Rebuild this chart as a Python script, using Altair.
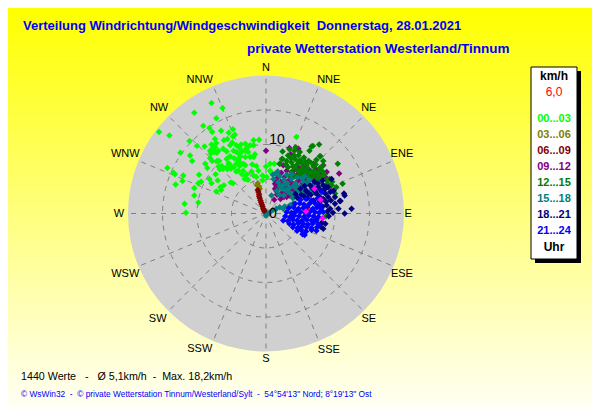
import math
import altair as alt
import pandas as pd

NB = "\u00a0"
TITLE_1 = f"Verteilung Windrichtung/Windgeschwindigkeit{NB}{NB}Donnerstag, 28.01.2021"
TITLE_2 = "private Wetterstation Westerland/Tinnum"
STATS = f"1440 Werte{NB}{NB}{NB}-{NB}{NB}{NB}Ø 5,1km/h{NB}{NB}-{NB}{NB}Max. 18,2km/h"
FOOTER = f"© WsWin32{NB}{NB}-{NB}{NB}© private Wetterstation Tinnum/Westerland/Sylt{NB}{NB}-{NB}{NB}54°54'13\" Nord; 8°19'13\" Ost"
DIRECTIONS = ["N", "NNE", "NE", "ENE", "E", "ESE", "SE", "SSE", "S", "SSW", "SW", "WSW", "W", "WNW", "NW", "NNW"]
DIR_LABEL_E = [0, 9.1, 14.9, 19.7, 20.6, 19.7, 14.9, 9.1, 0, -9.6, -15.7, -20.4, -21.3, -20.4, -15.5, -9.6]
DIR_LABEL_N = [21.1, 19.3, 15.3, 8.6, -0.1, -8.8, -15.3, -19.8, -21.1, -19.6, -15.3, -8.8, -0.1, 8.6, 15.3, 19.3]
RINGS = [5, 10, 15]
LEGEND = ["00...03", "03...06", "06...09", "09...12", "12...15", "15...18", "18...21", "21...24"]
COLORS = ["#00ff00", "#808000", "#800000", "#800080", "#008000", "#008080", "#000080", "#0000ff"]

# (east, north) wind components in km/h
H00 = [(-7.9,16.0),(-6.3,15.3),(-10.4,14.6),(-7.2,13.8),(-15.5,11.8),(-14.0,11.3),(-9.1,12.7),(-8.2,12.4),(-7.8,11.8),(-6.5,12.0),
(-4.8,12.2),(-5.4,11.7),(-4.5,11.4),(-4.8,11.2),(-11.1,10.5),(-10.0,9.8),(-8.9,9.7),(-7.4,10.8),(-7.9,10.0),(-7.2,10.2),
(-5.6,10.8),(-6.1,10.6),(-1.8,10.6),(-1.0,10.7),(-1.8,9.9),(-12.4,8.8),(-11.0,8.4),(-10.7,7.6),(-7.7,9.5),(-7.5,8.9),
(-7.1,8.8),(-8.0,8.7),(-6.2,9.4),(-5.7,9.0),(-4.9,10.3),(-5.2,9.9),(-4.3,9.9),(-3.6,10.0),(-3.0,10.1),(-2.8,9.5),
(-3.9,9.6),(-4.7,9.1),(-3.0,9.1),(-1.6,8.6),(-1.8,8.2),(-2.3,8.2),(-3.8,8.2),(-4.6,8.0),(-5.2,8.3),(-8.1,8.0),
(-7.8,7.6),(-7.1,7.6),(-6.8,7.6),(-8.8,7.2),(-8.5,6.6),(-6.9,6.8),(-5.4,7.3),(-5.2,7.0),(-5.7,6.7),(-6.2,6.5),
(-6.7,6.4),(-5.1,6.5),(-3.8,7.4),(-3.3,7.2),(-3.0,7.0),(-3.8,6.9),(-2.0,7.1),(-1.4,6.9),(-1.1,6.2),(-4.3,6.1),
(-3.5,5.7),(-3.0,5.5),(-3.1,5.0),(-2.6,4.9),(-2.8,5.7),(-2.1,6.1),(-1.4,5.3),(-0.5,5.5),(-0.5,4.8),(-14.3,6.6),
(-13.4,5.9),(-13.2,5.7),(-12.0,5.5),(-12.1,4.7),(-13.1,4.2),(-9.7,5.6),(-9.4,4.6),(-9.8,4.4),(-10.4,3.7),(-8.2,5.0),
(-7.3,5.7),(-7.0,4.8),(-7.9,4.4),(-6.1,4.1),(-6.6,3.8),(-6.5,3.4),(-7.2,3.2),(-5.1,4.5),(-4.8,4.4),(-10.4,2.6),
(-9.8,1.6),(-11.8,1.4),(-11.6,0.1),(0.6,7.2),(0.0,6.8),(0.6,6.2),(1.2,7.2),(4.4,11.1),(0.1,5.3),(0.8,5.9),
(-5.7,7.9),(-4.3,7.2),(-6.4,6.9),(-4.7,6.7),(-5.6,6.4),(-4.0,6.2),(-3.3,6.2),(-2.8,5.0),(-1.8,5.5),(-3.5,9.1),
(-4.3,8.9),(-3.8,8.6),(-2.6,8.9),(-2.3,9.9),(-3.0,8.2),(-4.0,7.7),(-8.1,9.1),(-7.4,9.6),(-6.9,9.1)]
H03 = [(-1.2,4.4),(-1.0,3.9),(-0.9,3.6),(-1.3,4.1)]
H06 = [(-1.2,3.4),(-1.1,3.1),(-1.0,2.8),(-1.0,2.5),(-0.9,2.2),(-0.8,1.9),(-0.7,1.6),(-0.6,1.3),(-0.5,1.0),(-0.4,0.7),(-0.3,0.5),(-0.2,0.3)]
H09 = [(0.0,9.1),(3.4,9.5),(4.7,9.4),(3.6,8.6),(2.5,7.0),(10.6,5.8),(6.9,7.2),(8.8,6.0),(2.0,7.2),(1.3,4.8),
(3.0,6.2),(4.7,6.7),(5.7,5.7),(1.8,3.8),(1.3,3.6),(1.2,2.0),(1.3,4.3),(1.5,3.3),(3.0,2.4),(3.5,3.3),
(4.4,4.5),(8.3,7.0),(8.4,5.8),(9.5,3.3),(6.8,5.8),(5.4,6.7),(2.1,4.6),(2.7,5.3),(3.3,4.8),(2.3,3.0),
(2.9,3.8),(3.7,4.1),(4.1,5.4),(4.8,4.9),(5.2,3.9),(6.0,4.7),(6.4,5.3),(7.1,4.4),(7.6,5.2),(2.2,5.9),
(1.7,5.2),(3.9,6.1),(5.0,6.0),(6.2,6.4),(7.3,6.3),(8.0,4.7),(5.6,3.0),(4.3,3.0),(2.6,2.4),(6.7,3.4),
(1.6,2.7),(2.1,2.1),(2.9,3.0),(3.4,2.6),(4.0,3.5),(4.6,3.8),(5.3,4.4),(1.5,4.0),(1.9,4.4),(2.5,4.1),
(3.0,4.3),(3.6,4.6),(4.5,5.6),(5.6,5.1),(6.5,5.9),(7.2,5.6),(7.9,5.9),(8.6,5.3),(6.9,4.9),(8.9,4.2)]
H12 = [(7.7,10.0),(6.6,9.7),(6.3,9.1),(2.4,9.0),(4.7,8.4),(4.1,9.1),(3.2,8.4),(2.3,7.9),(2.0,7.2),(7.9,8.3),
(8.3,7.6),(10.4,7.2),(7.3,7.8),(5.2,7.2),(4.2,7.9),(3.7,7.4),(5.9,7.0),(6.6,6.0),(7.6,5.5),(11.1,4.3),
(10.2,3.8),(9.5,4.1),(8.8,4.8),(4.9,6.0),(3.2,6.7),(5.7,6.2),(4.4,7.0),(3.7,6.0),(8.1,6.2),(6.8,9.8),
(4.3,9.6),(2.4,7.9),(7.8,8.3),(4.9,8.9),(5.5,8.1),(6.2,7.6),(3.4,9.3),(4.1,8.4),(6.9,6.8),(7.8,6.6),
(8.7,-0.4),(10.0,2.9),(8.5,5.7),(9.2,5.0),(6.1,5.3),(5.2,5.4),(4.4,6.4),(3.0,7.6),
(5.0,7.7),(5.7,7.5),(6.6,7.3),(7.2,7.1),(3.6,8.0),(2.9,7.1),(3.9,6.8),(4.7,7.5),(5.3,6.6),(6.0,6.5),
(7.0,6.2),(7.5,5.9),(8.3,5.5),(8.0,5.0),(7.4,4.9),(6.5,5.0),(6.9,5.5),(6.2,5.8),(5.5,5.8),(4.8,5.6),
(9.6,4.6),(8.9,4.3),(8.2,6.9),(4.2,5.4),(3.5,5.4)]
H15 = [(0.0,-0.3),(0.5,0.1),(1.0,0.5),(1.5,0.7),(2.0,0.9),(2.7,1.0),(3.5,1.2),(3.9,1.4),(0.8,2.6),(2.3,3.6),
(4.2,3.8),(3.2,3.1),(1.4,5.8),(1.1,5.0),(2.0,5.4),(2.6,4.9),(3.1,4.4),(3.7,5.0),(4.3,4.4),(4.9,3.9),
(5.4,4.6),(1.8,4.5),(2.3,4.0),(2.9,3.4),(3.6,2.9),(4.2,2.6),(5.0,3.1),(5.7,3.5),(3.0,5.6),(3.7,5.7),
(4.5,5.2),(5.2,5.1),(6.0,4.3),(6.6,3.7),(2.5,0.7),(1.6,3.3),(1.9,2.7),(2.6,2.6),(1.0,5.6),(1.7,6.1),
(4.0,4.0),(4.6,3.4),(5.3,2.9),(5.9,2.5),(6.4,3.1),(6.9,4.2),(7.4,3.7),(6.2,4.9),(5.6,5.4),(3.4,3.7),
(2.8,4.2),(2.0,3.9),(3.9,2.2),(4.7,2.2),(7.6,4.4),(7.1,3.0)]
H18 = [(11.4,0.0),(12.4,0.7),(10.7,1.8),(11.4,2.6),(10.0,2.4),(9.3,3.1),(8.6,2.9),(8.8,1.2),(7.3,-1.0),(8.1,-1.3),
(8.6,-1.5),(10.0,1.4),(9.3,0.7),(9.4,1.9),(8.3,2.1),(9.5,5.0),(8.3,4.1),(9.0,3.8),(7.6,3.8),(6.4,4.1),
(10.5,0.7),(10.8,1.8),(11.3,2.9),(8.8,3.8),(7.2,3.1),(6.5,2.7),(5.8,3.3),(5.1,2.7),(4.5,2.3),(7.8,2.4),
(6.9,1.9),(8.9,0.3),(5.6,4.0),(7.0,4.6),
(8.0,3.3),(8.5,3.5),(7.4,2.8),(6.0,2.2),(5.5,2.5),(9.0,2.4),(8.7,1.7),(8.2,1.0),(9.8,3.3),(8.2,4.8),
(7.5,4.4),(6.8,3.6),(6.1,3.0),(7.8,1.7),(5.0,3.6),(4.3,2.8),(9.1,-0.4),(9.7,0.1),(7.9,-1.9),(8.3,-2.2)]
H21 = [(5.0,2.0),(5.8,2.1),(6.6,1.9),(7.5,2.2),(8.1,3.1),(4.2,1.4),(4.9,1.5),(5.5,1.3),(6.3,1.4),(7.1,1.5),
(7.8,1.3),(3.3,0.8),(4.0,0.9),(4.7,0.7),(5.4,0.8),(6.0,0.9),(6.8,0.7),(7.4,0.9),(8.0,0.7),(3.0,0.2),
(3.7,0.1),(4.3,0.3),(5.0,0.2),(5.7,0.1),(6.4,0.3),(7.1,0.2),(7.7,0.1),(8.3,0.2),(2.8,-0.4),(3.5,-0.5),
(4.1,-0.3),(4.8,-0.4),(5.5,-0.5),(6.2,-0.3),(6.9,-0.4),(7.6,-0.5),(2.5,-1.0),(3.2,-1.1),(3.9,-0.9),(4.5,-1.0),
(5.2,-1.1),(5.9,-0.9),(6.6,-1.0),(7.3,-0.9),(3.4,-1.5),(4.0,-1.6),(4.7,-1.4),(5.4,-1.5),(6.1,-1.6),(6.8,-1.4),
(7.6,-1.6),(3.9,-2.0),(4.6,-2.1),(5.2,-1.9),(5.9,-2.0),(6.6,-2.1),(7.4,-2.0),(4.5,-2.5),(5.1,-2.4),(5.8,-2.6),
(6.6,-2.4),(7.3,-2.5),(5.3,-3.0),(5.6,-3.1)]
LATEST = [(8.2,-0.7),(7.0,3.6),(7.9,2.0),(5.8,0.3)]
CURRENT = [(6.2,0.6)]

W, H = 584, 399
PX_PER_KMH = 6.9
CX, CY = 258.0, 205.5
x_scale = alt.Scale(domain=[-CX / PX_PER_KMH, (W - CX) / PX_PER_KMH], range=[0, W], nice=False, zero=False)
y_scale = alt.Scale(domain=[-(H - CY) / PX_PER_KMH, CY / PX_PER_KMH], range=[H, 0], nice=False, zero=False)
r_scale = alt.Scale(domain=[0, 20], range=[0, 20 * PX_PER_KMH], zero=True, nice=False)
X = lambda f: alt.X(f, type="quantitative", scale=x_scale, axis=None)
Y = lambda f: alt.Y(f, type="quantitative", scale=y_scale, axis=None)
FONT = "Liberation Sans"


def text(s, x, y, size=12, color="#000000", bold=False, align="left", **kw):
    return alt.Chart(alt.Data(values=[{}])).mark_text(
        text=s, font=FONT, fontSize=size, color=color, fontWeight="bold" if bold else "normal",
        align=align, baseline="middle", **kw
    ).encode(x=alt.value(x), y=alt.value(y))


def box(x0, y0, x1, y1, **kw):
    return alt.Chart(alt.Data(values=[{}])).mark_rect(**kw).encode(
        x=alt.value(x0), x2=alt.value(x1), y=alt.value(y0), y2=alt.value(y1)
    )


def pts(values, color, size=42):
    df = pd.DataFrame(values, columns=["e", "n"])
    return alt.Chart(df).mark_point(shape="diamond", filled=True, color=color, size=size, opacity=1).encode(
        x=X("e"), y=Y("n")
    )


center = pd.DataFrame({"e": [0.0], "n": [0.0], "r": [20.0]})
rings = pd.DataFrame({"e": 0.0, "n": 0.0, "r": RINGS})
angles = [i * 22.5 for i in range(len(DIRECTIONS))]
spokes = pd.DataFrame({
    "e": 0.0, "n": 0.0,
    "e2": [20 * math.sin(math.radians(a)) for a in angles],
    "n2": [20 * math.cos(math.radians(a)) for a in angles],
})
labels = pd.DataFrame({"t": DIRECTIONS, "e": DIR_LABEL_E, "n": DIR_LABEL_N})
ring_labels = pd.DataFrame({"t": ["10", "0"], "e": [1.6, 1.0], "n": [10.6, -0.1]})

layers = [
    box(0, 0, W, H, color=alt.Gradient(gradient="linear", x1=0, y1=0, x2=0, y2=1,
        stops=[alt.GradientStop(offset=0, color="#ffff00"), alt.GradientStop(offset=1, color="#fffff4")])),
    alt.Chart(center).mark_arc(theta=0, theta2=2 * math.pi, color="#d0d0d0").encode(
        x=X("e"), y=Y("n"), radius=alt.Radius("r:Q", scale=r_scale, stack=None)),
    alt.Chart(rings).mark_arc(theta=0, theta2=2 * math.pi, fillOpacity=0, stroke="#808080", strokeWidth=1, strokeDash=[5, 5]).encode(
        x=X("e"), y=Y("n"), radius=alt.Radius("r:Q", scale=r_scale, stack=None)),
    alt.Chart(spokes).mark_rule(color="#808080", strokeWidth=1, strokeDash=[5, 5]).encode(
        x=X("e"), y=Y("n"), x2="e2", y2="n2"),
    alt.Chart(labels).mark_text(font=FONT, fontSize=11, color="#000000", baseline="middle").encode(
        x=X("e"), y=Y("n"), text="t:N"),
]
for vals, col in zip([H00, H03, H06, H09, H12, H15, H18, H21], COLORS):
    layers.append(pts(vals, col))
layers.append(pts(LATEST, "#ff00ff"))
layers.append(pts(CURRENT, "#ff0000", size=8))
layers.append(alt.Chart(ring_labels).mark_text(font=FONT, fontSize=14, color="#000000", baseline="middle").encode(
    x=X("e"), y=Y("n"), text="t:N"))

layers += [
    text(TITLE_1, 15, 18, size=13, color="#0000ff", bold=True),
    text(TITLE_2, 239, 41, size=13.5, color="#0000ff", bold=True),
    text(STATS, 13, 369, size=10.7),
    text(FOOTER, 13, 386, size=8.35, color="#0000ff"),
    box(527, 63, 573, 255, color="#000000"),
    box(523, 59, 569, 251, color="#ffffff", stroke="#000000", strokeWidth=1),
    text("km/h", 546, 68, size=12, bold=True, align="center"),
    text("6,0", 546, 84, size=12, color="#ff0000", align="center"),
    text("Uhr", 546, 239, size=12, bold=True, align="center"),
]
for i, (lab, col) in enumerate(zip(LEGEND, COLORS)):
    layers.append(text(lab, 546, 111 + 16 * i, size=11, color=col, bold=True, align="center"))

chart = alt.layer(*layers).properties(
    width=W, height=H, padding=0, autosize=alt.AutoSizeParams(type="none")
).configure_view(stroke=None)

chart.save("out.html", embed_options={"renderer": "svg", "actions": False})
